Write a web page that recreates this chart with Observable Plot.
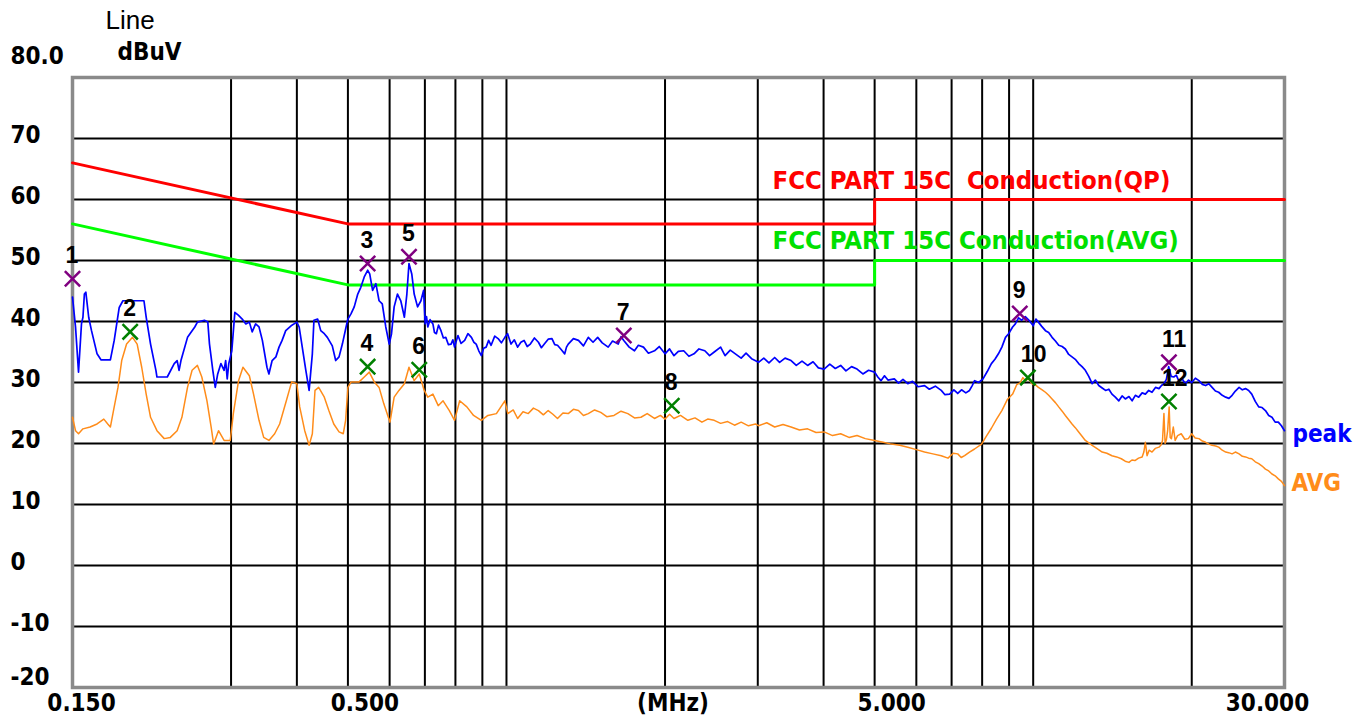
<!DOCTYPE html>
<html><head><meta charset="utf-8">
<script src="https://cdn.jsdelivr.net/npm/d3@7"></script>
<script src="https://cdn.jsdelivr.net/npm/@observablehq/plot@0.6"></script>
<style>
html,body{margin:0;padding:0;background:#fff;}
#chart svg .cond text, #chart svg text.cond{font-stretch:condensed;}
</style></head><body><div id="chart"></div>
<script>
// ---- data ----
const gridFreqs = [0.3,0.4,0.5,0.6,0.7,0.8,0.9,1,2,3,4,5,6,7,8,9,10,20];
const gridLevels = [70,60,50,40,30,20,10,0,-10];
const yTickValues = [70,60,50,40,30,20,10,0,-10];
const xLabelText = ["0.150","0.500","(MHz)","5.000","30.000"];
const xLabelFreq = [0.15,0.5,2,5,30];

const qpLimitFreq = [0.15,0.5,5,5,30];
const qpLimitLevel = [66,56,56,60,60];
const avgLimitFreq = [0.15,0.5,5,5,30];
const avgLimitLevel = [56,46,46,50,50];

const peakTrace = [[0.150,44.0],[0.152,39.1],[0.154,31.7],[0.156,39.6],[0.157,40.7],[0.158,44.5],[0.159,44.8],[0.161,40.7],[0.163,38.5],[0.167,34.7],[0.170,33.7],[0.177,33.7],[0.180,36.9],[0.184,42.3],[0.187,43.4],[0.205,43.4],[0.207,40.7],[0.211,36.3],[0.216,32.0],[0.217,30.9],[0.227,30.9],[0.234,33.1],[0.237,33.6],[0.239,32.0],[0.241,33.6],[0.248,37.4],[0.256,39.1],[0.259,39.9],[0.267,40.2],[0.271,39.9],[0.273,36.3],[0.277,32.0],[0.280,29.2],[0.283,31.4],[0.287,33.1],[0.291,32.0],[0.293,33.6],[0.295,30.6],[0.297,33.1],[0.301,35.2],[0.305,41.5],[0.310,41.0],[0.315,40.4],[0.320,39.6],[0.325,39.9],[0.329,38.3],[0.334,39.6],[0.339,39.1],[0.344,36.9],[0.351,32.5],[0.354,31.4],[0.359,33.6],[0.365,34.2],[0.370,35.8],[0.375,36.9],[0.381,38.5],[0.390,39.3],[0.400,39.9],[0.404,39.1],[0.416,32.0],[0.422,28.7],[0.428,34.7],[0.431,40.2],[0.438,40.4],[0.444,38.5],[0.451,38.0],[0.457,37.4],[0.467,36.0],[0.474,33.6],[0.481,34.2],[0.488,36.3],[0.496,39.1],[0.500,40.4],[0.507,41.3],[0.514,42.4],[0.522,44.5],[0.529,45.6],[0.537,47.3],[0.545,48.4],[0.550,47.8],[0.557,45.1],[0.565,46.2],[0.573,43.4],[0.581,42.9],[0.590,39.1],[0.599,36.3],[0.605,38.0],[0.612,42.4],[0.621,44.5],[0.630,43.4],[0.640,40.7],[0.647,44.5],[0.653,49.5],[0.661,47.8],[0.668,44.5],[0.678,42.4],[0.688,43.4],[0.696,45.1],
[0.701,39.6],[0.705,40.8],[0.709,39.1],[0.716,40.3],[0.725,39.6],[0.730,38.2],[0.736,38.0],[0.743,39.4],[0.751,38.5],[0.759,37.3],[0.767,37.4],[0.776,36.2],[0.785,36.3],[0.791,37.0],[0.797,35.8],[0.803,36.8],[0.809,37.7],[0.820,36.4],[0.833,36.9],[0.845,38.0],[0.858,37.4],[0.867,36.6],[0.876,36.3],[0.886,35.2],[0.896,34.4],[0.905,35.6],[0.915,35.8],[0.925,36.9],[0.935,36.1],[0.950,37.6],[0.964,37.2],[0.978,36.5],[0.993,37.4],[1.005,38.0],[1.02,36.3],[1.035,37.0],[1.05,35.8],[1.065,36.6],[1.08,36.9],[1.095,35.9],[1.11,36.3],[1.13,37.3],[1.15,36.6],[1.165,35.7],[1.18,36.3],[1.20,37.1],[1.22,37.2],[1.235,36.2],[1.25,36.1],[1.27,35.4],[1.29,34.7],[1.30,35.8],[1.31,36.3],[1.34,37.2],[1.37,36.9],[1.40,36.0],[1.43,37.4],[1.46,36.6],[1.49,37.4],[1.52,36.5],[1.56,35.8],[1.59,36.8],[1.63,36.3],[1.65,37.5],[1.67,36.9],[1.71,35.8],[1.75,35.2],[1.78,36.1],[1.82,35.8],[1.86,34.8],[1.91,35.2],[1.95,35.9],[2.00,34.7],[2.04,35.5],[2.08,34.4],[2.12,35.1],[2.17,35.2],[2.22,34.3],[2.27,34.7],[2.32,35.5],[2.38,35.2],[2.43,34.4],[2.48,35.0],[2.55,35.8],[2.60,34.4],[2.66,35.3],[2.72,34.7],[2.79,34.0],[2.85,34.8],[2.92,33.9],[3.01,33.3],
[3.08,34.0],[3.15,33.2],[3.23,34.1],[3.30,33.3],[3.38,34.0],[3.47,33.6],[3.55,32.8],[3.64,33.5],[3.73,32.8],[3.82,33.4],[3.91,32.4],[4.01,32.2],[4.11,33.0],[4.21,32.3],[4.31,32.8],[4.41,31.9],[4.52,32.6],[4.63,32.2],[4.75,31.4],[4.87,32.0],[5.00,31.7],[5.07,30.9],[5.14,30.3],[5.22,31.1],[5.30,30.4],[5.45,30.6],[5.55,29.9],[5.66,30.5],[5.78,29.8],[5.90,30.2],[6.05,29.3],[6.22,29.5],[6.35,28.9],[6.52,29.4],[6.69,28.7],[6.80,28.0],[6.94,28.1],[7.07,28.8],[7.19,28.2],[7.31,28.8],[7.45,28.3],[7.57,28.7],[7.66,29.5],[7.74,30.3],[7.88,30.0],[8.03,30.6],[8.18,31.8],[8.33,33.1],[8.46,33.8],[8.59,34.7],[8.72,35.8],[8.86,37.4],[8.98,38.0],[9.14,39.1],[9.25,39.6],[9.38,40.6],[9.51,40.2],[9.66,40.8],[9.82,40.2],[10.0,39.3],[10.12,40.4],[10.23,39.9],[10.38,39.2],[10.55,38.5],[10.70,38.2],[10.86,37.4],[11.02,36.8],[11.18,36.1],[11.35,35.9],[11.51,35.5],[11.68,34.6],[11.85,34.2],[12.02,33.8],[12.2,33.1],[12.38,32.6],[12.56,32.0],[12.75,31.0],[12.94,29.8],[13.12,30.4],[13.32,29.5],[13.52,29.1],[13.72,28.7],[13.92,28.9],[14.11,28.1],[14.32,27.6],[14.54,27.0],[14.75,27.8],[14.96,27.3],[15.2,27.7],[15.41,27.0],[15.63,27.9],[15.86,27.6],[16.1,28.3],[16.33,28.1],[16.57,28.7],[16.81,28.4],[17.07,29.2],[17.33,29.0],[17.52,29.5],[17.71,29.8],[17.9,30.5],[18.08,32.6],[18.28,31.0],[18.49,30.9],[18.69,31.2],[18.89,30.3],[19.17,30.6],[19.45,29.8],[19.72,30.4],[20.0,30.0],[20.32,30.7],[20.64,30.3],[20.95,29.7],[21.25,29.5],[21.55,29.8],[21.86,29.2],[22.18,28.6],[22.5,28.4],[22.85,27.9],[23.2,27.6],[23.53,27.4],[23.86,27.9],[24.2,28.6],[24.6,29.2],[24.95,28.8],[25.3,29.0],[25.65,28.7],[26.0,28.1],[26.4,26.9],[26.8,26.0],[27.2,25.9],[27.6,25.4],[28.0,24.6],[28.4,24.3],[28.8,23.5],[29.2,23.5],[29.6,22.9],[30.0,22.1]];

const avgTrace = [[0.150,24.3],[0.152,22.1],[0.154,21.6],[0.157,22.4],[0.162,22.7],[0.167,23.2],[0.172,24.0],[0.175,23.2],[0.177,22.7],[0.180,26.0],[0.183,29.2],[0.186,33.6],[0.190,36.3],[0.195,37.4],[0.199,36.3],[0.203,32.5],[0.207,28.1],[0.211,24.3],[0.217,22.1],[0.224,20.8],[0.230,21.0],[0.237,22.1],[0.242,24.3],[0.248,29.2],[0.253,32.0],[0.259,32.8],[0.264,30.9],[0.270,27.0],[0.275,22.7],[0.278,19.9],[0.284,22.1],[0.291,20.5],[0.299,20.5],[0.303,24.9],[0.310,30.3],[0.316,32.5],[0.325,31.1],[0.331,28.1],[0.339,23.8],[0.346,21.0],[0.354,20.5],[0.363,21.6],[0.371,23.2],[0.382,27.0],[0.391,30.1],[0.400,29.8],[0.405,26.0],[0.414,22.1],[0.422,19.7],[0.428,21.6],[0.433,28.7],[0.440,29.2],[0.451,27.6],[0.460,25.4],[0.470,23.2],[0.481,21.9],[0.490,21.6],[0.495,23.8],[0.500,29.2],[0.507,30.1],[0.525,30.1],[0.537,30.9],[0.549,31.7],[0.561,30.1],[0.573,29.2],[0.585,26.5],[0.601,23.5],[0.612,27.6],[0.625,28.7],[0.640,29.8],[0.653,32.5],[0.668,30.3],[0.683,31.4],[0.698,28.7],[0.709,27.6],[0.725,28.1],[0.742,26.2],[0.758,27.0],[0.779,25.4],[0.797,23.8],[0.815,27.0],[0.841,26.0],[0.866,24.6],[0.896,23.8],[0.922,24.6],[0.957,24.9],[0.993,27.0],
[1.006,24.9],[1.03,25.5],[1.05,24.1],[1.075,25.2],[1.10,24.9],[1.125,25.8],[1.15,25.4],[1.175,24.7],[1.20,25.4],[1.225,24.8],[1.25,24.1],[1.28,25.0],[1.31,24.9],[1.34,25.6],[1.37,25.4],[1.40,24.6],[1.43,24.9],[1.47,25.5],[1.51,25.1],[1.55,24.4],[1.60,24.6],[1.65,25.3],[1.70,24.9],[1.75,24.2],[1.80,24.3],[1.85,24.9],[1.91,24.1],[1.96,24.6],[2.00,24.0],[2.04,24.8],[2.08,24.1],[2.14,24.6],[2.21,23.8],[2.28,24.2],[2.35,23.5],[2.41,24.0],[2.48,23.8],[2.55,23.3],[2.63,23.6],[2.71,23.0],[2.79,23.5],[2.88,22.9],[2.97,23.2],
[3.01,22.9],[3.12,23.4],[3.23,22.7],[3.35,23.1],[3.47,22.7],[3.60,22.2],[3.73,22.4],[3.87,21.8],[4.01,21.9],[4.16,21.3],[4.31,21.6],[4.47,21.0],[4.63,21.3],[4.80,20.8],[5.00,20.5],[5.19,20.2],[5.38,19.9],[5.58,19.7],[5.78,19.4],[6.0,19.0],[6.22,18.6],[6.45,18.3],[6.69,18.0],[6.89,17.6],[7.05,18.4],[7.19,18.3],[7.30,17.7],[7.41,18.0],[7.57,18.6],[7.74,19.1],[7.98,19.9],[8.15,21.2],[8.33,22.5],[8.52,24.0],[8.72,25.4],[8.93,27.2],[9.14,28.1],[9.30,29.6],[9.45,30.0],[9.56,30.8],[9.66,30.3],[9.80,30.6],[9.95,29.8],[10.1,29.6],[10.23,29.2],[10.4,28.8],[10.55,28.4],[10.7,27.9],[10.86,27.3],[11.02,26.7],[11.18,26.0],[11.35,25.3],[11.51,24.6],[11.68,23.9],[11.85,23.2],[12.02,22.6],[12.2,21.9],[12.38,21.2],[12.56,20.5],[12.75,20.1],[12.94,19.7],[13.2,19.2],[13.52,18.6],[13.8,18.4],[14.11,18.0],[14.4,17.8],[14.7,17.5],[14.95,17.1],[15.2,16.9],[15.4,17.3],[15.6,17.2],[15.85,17.6],[16.1,17.8],[16.22,18.6],[16.33,20.2],[16.45,18.0],[16.6,18.9],[16.81,18.6],[17.05,19.2],[17.33,19.4],[17.5,19.8],[17.6,20.5],[17.71,24.9],[17.8,20.0],[17.9,20.6],[18.0,22.1],[18.12,26.0],[18.2,21.0],[18.3,20.8],[18.45,22.7],[18.6,20.5],[18.8,21.3],[19.1,21.6],[19.4,20.7],[19.7,20.8],[20.0,21.6],[20.3,20.9],[20.64,20.8],[20.95,20.4],[21.25,20.2],[21.55,19.9],[21.86,19.7],[22.2,19.6],[22.5,19.4],[22.85,18.9],[23.2,18.6],[23.5,18.5],[23.86,18.3],[24.2,18.6],[24.6,18.3],[24.95,17.9],[25.3,17.8],[25.65,17.6],[26.0,17.5],[26.4,17.0],[26.8,16.7],[27.2,16.3],[27.6,15.8],[28.0,15.5],[28.4,15.0],[28.8,14.7],[29.2,14.2],[29.6,13.8],[30.0,13.1]];

const peakMarkerNo = ["1","3","5","7","9","11"];
const peakMarkerFreq = [0.150,0.545,0.653,1.67,9.43,18.1];
const peakMarkerLevel = [47.0,49.5,50.6,37.7,41.3,33.3];
const avgMarkerNo = ["2","4","6","8","10","12"];
const avgMarkerFreq = [0.193,0.545,0.683,2.06,9.77,18.1];
const avgMarkerLevel = [38.3,32.6,32.1,26.2,30.8,26.9];

// ---- build ----
const toRows = (f, v) => f.map((d, i) => ({f: d, v: v[i]}));
const qpLimit = toRows(qpLimitFreq, qpLimitLevel);
const avgLimit = toRows(avgLimitFreq, avgLimitLevel);
const peakMarkers = peakMarkerNo.map((n, i) => ({n, f: peakMarkerFreq[i], v: peakMarkerLevel[i]}));
const avgMarkers = avgMarkerNo.map((n, i) => ({n, f: avgMarkerFreq[i], v: avgMarkerLevel[i]}));
const markers = peakMarkers.concat(avgMarkers);

const COND = "'DejaVu Sans Condensed','DejaVu Sans',sans-serif";
const ARIAL = "'Liberation Sans',Arial,sans-serif";
const cond = {fontFamily: COND, fontWeight: "bold", fontSize: 24, className: "cond", lineAnchor: "middle"};
const xLabelDx = [9, 17, 8, 17, -17];

const plot = Plot.plot({
  width: 1365, height: 722,
  marginLeft: 72, marginRight: 81, marginTop: 77, marginBottom: 35,
  style: {background: "white", overflow: "visible"},
  x: {type: "log", domain: [0.15, 30], axis: null},
  y: {domain: [-20, 80], axis: null},
  marks: [
    Plot.ruleX(gridFreqs, {x: d => d, stroke: "#000", strokeWidth: 2}),
    Plot.ruleY(gridLevels, {y: d => d, stroke: "#000", strokeWidth: 2}),
    Plot.frame({stroke: "#8a8a8a", strokeWidth: 3.5}),
    Plot.line(qpLimit, {x: "f", y: "v", stroke: "#ff0000", strokeWidth: 3}),
    Plot.line(avgLimit, {x: "f", y: "v", stroke: "#00ff00", strokeWidth: 3}),
    Plot.line(avgTrace, {x: d => d[0], y: d => d[1], stroke: "#ff8c1a", strokeWidth: 1.5}),
    Plot.line(peakTrace, {x: d => d[0], y: d => d[1], stroke: "#0000ff", strokeWidth: 1.7}),
    Plot.dot(peakMarkers, {x: "f", y: "v", symbol: "times", r: 7, stroke: "#800080", strokeWidth: 2.5}),
    Plot.dot(avgMarkers, {x: "f", y: "v", symbol: "times", r: 7, stroke: "#008000", strokeWidth: 2.5}),
    Plot.text(markers, {x: "f", y: "v", text: "n", textAnchor: "start", lineAnchor: "middle", dx: -7, dy: -23, fontFamily: ARIAL, fontWeight: "bold", fontSize: 23, fill: "#000"}),
    // y tick labels
    Plot.text(yTickValues, {y: d => d, text: d => String(d), frameAnchor: "left", textAnchor: "start", dx: -62, dy: -3, ...cond}),
    Plot.text([80], {y: d => d, text: () => "80.0", frameAnchor: "left", textAnchor: "start", dx: -62, dy: -21, ...cond}),
    Plot.text([-20], {y: d => d, text: () => "-20", frameAnchor: "left", textAnchor: "start", dx: -62, dy: -10, ...cond}),
    // x tick labels
    ...xLabelText.map((t, i) => Plot.text([xLabelFreq[i]], {x: d => d, text: () => t, frameAnchor: "bottom", dy: 16, dx: xLabelDx[i], ...cond})),
    // titles
    Plot.text(["Line"], {frameAnchor: "top-left", text: d => d, textAnchor: "start", lineAnchor: "middle", dx: 33, dy: -57, fontFamily: ARIAL, fontSize: 26}),
    Plot.text(["dBuV"], {frameAnchor: "top-left", text: d => d, textAnchor: "start", dx: 45, dy: -25, ...cond}),
    // limit labels
    Plot.text(["FCC PART 15C\u00a0\u00a0Conduction(QP)"], {frameAnchor: "top-left", text: d => d, textAnchor: "start", dx: 700, dy: 103, fill: "#ff0000", ...cond, fontSize: 25.5}),
    Plot.text(["FCC PART 15C Conduction(AVG)"], {frameAnchor: "top-left", text: d => d, textAnchor: "start", dx: 700, dy: 163, fill: "#00e000", ...cond, fontSize: 25.5}),
    // trace end labels
    Plot.text([peakTrace[peakTrace.length - 1]], {x: d => d[0], y: d => d[1], text: () => "peak", textAnchor: "start", dx: 8, dy: 4, fill: "#0000ff", ...cond}),
    Plot.text([avgTrace[avgTrace.length - 1]], {x: d => d[0], y: d => d[1], text: () => "AVG", textAnchor: "start", dx: 7, dy: -2, fill: "#ff8c1a", ...cond})
  ]
});
document.getElementById("chart").appendChild(plot);
</script></body></html>
